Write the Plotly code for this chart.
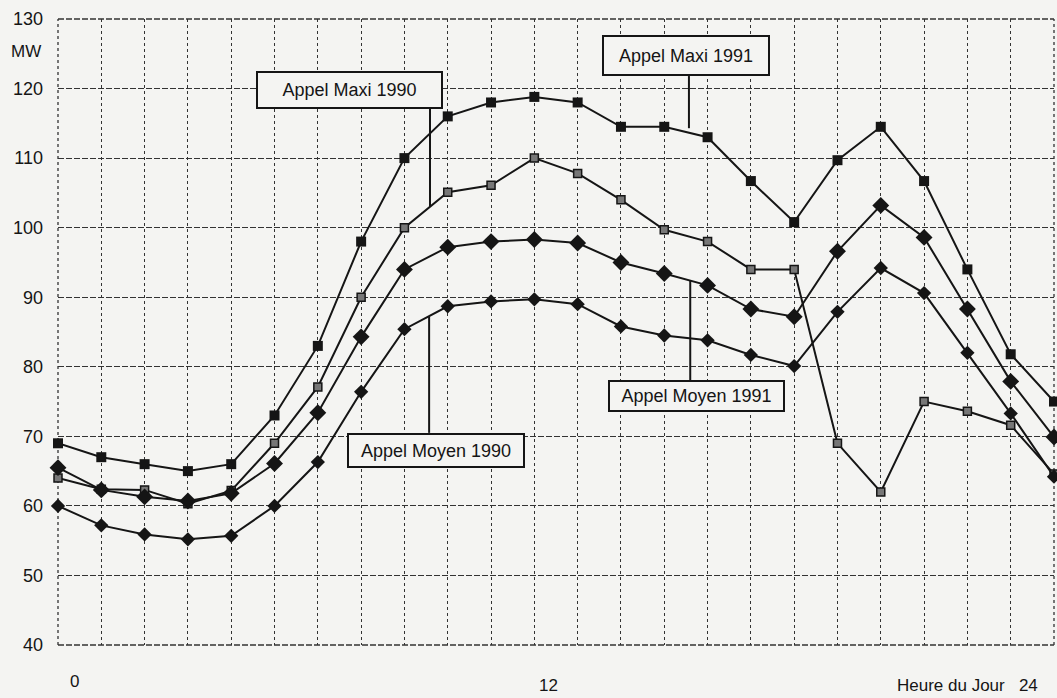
import plotly.graph_objects as go

hours = list(range(1, 25))

maxi_1991 = [69, 67, 66, 65, 66, 73, 83, 98, 110, 116, 118, 118.8, 118, 114.5, 114.5, 113,
             106.7, 100.8, 109.7, 114.5, 106.7, 94, 81.8, 75]
maxi_1990 = [64, 62.4, 62.3, 60.3, 62.2, 69, 77.1, 90, 100, 105.1, 106.1, 110, 107.8, 104, 99.7, 98,
             94, 94, 69, 62, 75, 73.6, 71.6, 64.6]
moyen_1991 = [65.5, 62.3, 61.3, 60.7, 61.8, 66.1, 73.4, 84.3, 94, 97.2, 98, 98.3, 97.8, 95, 93.4, 91.7,
              88.3, 87.2, 96.6, 103.2, 98.6, 88.3, 77.9, 69.9]
moyen_1990 = [60, 57.2, 55.9, 55.2, 55.7, 60, 66.3, 76.4, 85.4, 88.7, 89.4, 89.7, 89, 85.8, 84.5, 83.8,
              81.7, 80.1, 87.9, 94.2, 90.6, 82, 73.3, 64.2]

y_ticks = [40, 50, 60, 70, 80, 90, 100, 110, 120, 130]

BG = "#f4f4f2"
INK = "#151515"
GRID = "#333333"
FONT = "Liberation Sans, Arial, sans-serif"

W, H = 1057, 698
ML, MR, MT, MB = 58, 3, 19, 53
PW, PH = W - ML - MR, H - MT - MB

fig = go.Figure()

series = [
    ("Appel Maxi 1991", maxi_1991, dict(symbol="square", size=10, color=INK)),
    ("Appel Maxi 1990", maxi_1990, dict(symbol="square", size=8, color="#777777",
                                        line=dict(color=INK, width=1.5))),
    ("Appel Moyen 1991", moyen_1991, dict(symbol="diamond", size=13, color=INK)),
    ("Appel Moyen 1990", moyen_1990, dict(symbol="diamond", size=11, color=INK)),
]
for name, vals, mk in series:
    fig.add_trace(go.Scatter(x=hours, y=vals, name=name, mode="lines+markers",
                             line=dict(color=INK, width=2), marker=mk, cliponaxis=False))

# plot frame (drawn like the grid)
for x0, y0, x1, y1, dash in [(0, 0, 1, 0, "6px,2px"), (0, 1, 1, 1, "6px,2px"),
                             (0, 0, 0, 1, "dot"), (1, 0, 1, 1, "dot")]:
    fig.add_shape(type="line", xref="x domain", yref="y domain", x0=x0, y0=y0, x1=x1, y1=y1,
                  layer="below", line=dict(color=GRID, width=1.3, dash=dash))

# label boxes: (text, x, y, width, height)
boxes = [
    ("Appel Maxi 1990", 7.73, 119.8, 187, 38),
    ("Appel Maxi 1991", 15.51, 124.7, 168, 41),
    ("Appel Moyen 1991", 15.75, 75.8, 177, 32),
    ("Appel Moyen 1990", 9.73, 68.0, 178, 35),
]
# pointer lines: (x, y0, y1)
pointers = [
    (9.59, 117.1, 103.0),
    (15.57, 121.8, 114.3),
    (15.60, 78.1, 92.4),
    (9.57, 70.5, 87.2),
]
for x, y0, y1 in pointers:
    fig.add_shape(type="line", x0=x, x1=x, y0=y0, y1=y1, xref="x", yref="y",
                  line=dict(color=INK, width=2))

for text, x, y, w, h in boxes:
    fig.add_annotation(x=x, y=y, xref="x", yref="y", text=text, showarrow=False,
                       font=dict(family=FONT, size=18, color=INK),
                       bgcolor=BG, bordercolor=INK, borderwidth=2, borderpad=1,
                       width=w - 6, height=h - 6, align="center", valign="middle")


def px(xp, yp):
    return (xp - ML) / PW, (H - MB - yp) / PH


for text, (xp, yp), anchor in [("MW", (9, 51), "left"), ("0", (74, 681), "center"),
                               ("12", (548, 685), "center"),
                               ("Heure du Jour   24", (1040, 686), "right")]:
    xx, yy = px(xp, yp)
    fig.add_annotation(x=xx, y=yy, xref="paper", yref="paper", text=text, showarrow=False,
                       xanchor=anchor, yanchor="middle",
                       font=dict(family=FONT, size=17, color=INK))

fig.update_layout(
    width=W, height=H,
    margin=dict(l=ML, r=MR, t=MT, b=MB, autoexpand=False),
    paper_bgcolor=BG, plot_bgcolor=BG,
    showlegend=False,
    font=dict(family=FONT, size=17, color=INK),
)
fig.update_xaxes(range=[1, 24], tick0=1, dtick=1, showticklabels=False, ticks="",
                 showgrid=True, gridcolor=GRID, gridwidth=1.3, griddash="dot",
                 zeroline=False, showline=False)
fig.update_yaxes(range=[40, 130], tickvals=y_ticks, ticktext=[str(v) for v in y_ticks],
                 ticks="", ticklabelstandoff=14,
                 tickfont=dict(family=FONT, size=18, color=INK),
                 showgrid=True, gridcolor=GRID, gridwidth=1.3, griddash="6px,2px",
                 zeroline=False, showline=False)

fig.write_html("out.html", config={"displayModeBar": False},
               post_script="document.body.style.margin='0';document.body.style.background='%s';" % BG)
